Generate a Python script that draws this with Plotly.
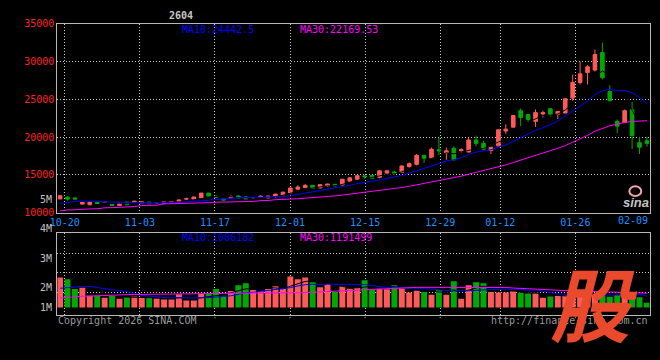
import plotly.graph_objects as go

W, H = 660, 360

# ---------------- data ----------------
dates = ["10-17", "10-20", "10-21", "10-22", "10-23", "10-24", "10-27", "10-28", "10-29", "10-30", "10-31",
         "11-03", "11-04", "11-05", "11-06", "11-07", "11-10", "11-11", "11-12", "11-13", "11-14",
         "11-17", "11-18", "11-19", "11-20", "11-21", "11-24", "11-25", "11-26", "11-27", "11-28",
         "12-01", "12-02", "12-03", "12-04", "12-05", "12-08", "12-09", "12-10", "12-11", "12-12",
         "12-15", "12-16", "12-17", "12-18", "12-19", "12-22", "12-23", "12-24", "12-25", "12-26",
         "12-29", "12-30", "12-31", "01-05", "01-06", "01-07", "01-08", "01-09",
         "01-12", "01-13", "01-14", "01-15", "01-16", "01-19", "01-20", "01-21", "01-22", "01-23",
         "01-26", "01-27", "01-28", "01-29", "01-30", "02-02", "02-03", "02-04", "02-05", "02-06",
         "02-09"]

opens = [11833, 12090, 11960, 11150, 11064, 11360, 11400, 11100, 10975, 11410,
         11360, 11230, 11410, 11300, 11230, 11320, 11320, 11820, 11795, 11960,
         12600, 12200, 11830, 12000, 12220, 12090, 11940, 12090, 11960, 12130,
         12350, 12600, 13115, 13330, 13630, 13280, 13540, 13760, 13670, 14180,
         14440, 14870, 14950, 14690, 15260, 15380, 15340, 16100, 16410, 17600,
         17260, 18330, 17900, 18540, 18200, 18030, 19620, 19180, 18240, 18850,
         20810, 21320, 23500, 22990, 22090, 23070, 23760, 23030, 23200, 25170,
         27220, 28540, 28880, 31190, 26030, 22090, 21920, 23630, 19270, 19530]
highs = [12300, 12130, 12000, 11410, 11450, 11400, 11480, 11150, 11320, 11450,
         11580, 11480, 11450, 11380, 11480, 11530, 11750, 12000, 12130, 12640,
         12640, 12250, 11870, 12310, 12300, 12120, 12000, 12310, 12260, 12510,
         12770, 13320, 13630, 13800, 13680, 13760, 13840, 13800, 14480, 14720,
         14950, 15000, 14990, 15600, 15680, 15550, 16300, 16660, 17770, 17640,
         18620, 19950, 18620, 18790, 18540, 19950, 20200, 19520, 18720, 21000,
         21700, 22950, 23800, 23030, 23670, 23500, 23800, 23450, 25120, 28270,
         29990, 29530, 31580, 32510, 26870, 22350, 23670, 24650, 20040, 20040]
lows = [11800, 11610, 11750, 11100, 11000, 11180, 11350, 10930, 10950, 11000,
        11320, 11200, 11150, 11260, 11200, 11300, 11300, 11700, 11750, 11940,
        12200, 11950, 11650, 11980, 11930, 11800, 11910, 12060, 11930, 11960,
        12330, 12440, 13080, 13300, 13200, 13250, 13500, 13500, 13640, 14150,
        14400, 14400, 14520, 14560, 15130, 15080, 15300, 15980, 16230, 16580,
        17230, 17480, 17000, 16950, 17900, 18000, 18800, 18380, 17770, 18800,
        20440, 21300, 21450, 21960, 21360, 22600, 22730, 22390, 23150, 24830,
        26960, 26960, 28670, 27640, 24800, 20550, 21900, 18410, 17770, 18760]
closes = [12256, 11795, 11830, 11360, 11410, 11230, 11430, 10975, 11280, 11064,
          11540, 11450, 11190, 11330, 11450, 11490, 11705, 11850, 12090, 12600,
          12220, 12050, 11700, 12130, 11960, 11830, 11970, 12180, 12220, 12475,
          12730, 13280, 13410, 13630, 13240, 13720, 13800, 13540, 14440, 14620,
          14910, 14780, 14560, 15550, 15550, 15210, 16190, 16490, 17600, 17220,
          18410, 18200, 18200, 17000, 18330, 19620, 19180, 18410, 18670, 20970,
          21060, 22860, 22600, 22350, 23240, 23240, 23030, 23410, 25080, 27220,
          28370, 29310, 30930, 27860, 24820, 21450, 23500, 20200, 18670, 19180]
# volume, millions of lots
volumes = [2.50, 2.34, 1.53, 1.64, 0.97, 0.97, 0.81, 0.97, 0.73, 0.86,
           0.91, 0.78, 0.83, 0.75, 0.67, 0.67, 1.10, 0.59, 0.59, 1.13,
           1.13, 1.53, 0.97, 1.37, 1.85, 2.02, 1.45, 1.37, 1.53, 1.77,
           1.61, 2.58, 2.34, 2.50, 2.10, 1.69, 1.94, 1.29, 1.75, 1.56,
           1.64, 2.26, 1.48, 1.56, 1.51, 1.85, 1.69, 1.24, 1.40, 1.29,
           1.05, 1.45, 1.05, 2.18, 0.73, 1.85, 2.10, 2.02, 1.29, 1.24,
           1.24, 1.32, 1.24, 1.16, 1.16, 0.81, 0.91, 0.95, 1.00, 0.93,
           1.10, 1.00, 1.05, 1.36, 0.90, 1.15, 1.00, 1.29, 0.85, 0.40]

# moving-average values before the window is filled
ma10_head = [11280, 11300, 11530, 11540, 11540, 11540, 11420, 11410, 11400]
ma30_head = [10250, 10380, 10400, 10500, 10510, 10530, 10660, 10680, 10700, 10800,
             10820, 10960, 10980, 11000, 11180, 11190, 11200, 11210, 11230, 11320,
             11330, 11400, 11410, 11420, 11480, 11490, 11500, 11610, 11620]
vol_ma10_head = [1.60, 1.67, 1.70, 1.75, 1.75, 1.68, 1.55, 1.48, 1.38]
vol_ma30_head = [0.78, 0.84, 0.88, 0.94, 0.95, 0.98, 1.03, 1.05, 1.06, 1.07,
                 1.08, 1.08, 1.12, 1.13, 1.13, 1.13, 1.14, 1.14, 1.14, 1.15,
                 1.15, 1.16, 1.17, 1.18, 1.18, 1.19, 1.20, 1.21, 1.22]

title_text = "2604"
price_ma10_text = "MA10:24442.5"
price_ma30_text = "MA30:22169.53"
vol_ma10_text = "MA10:1006182"
vol_ma30_text = "MA30:1191499"
price_ticks = [10000, 15000, 20000, 25000, 30000, 35000]
vol_labels = ["5M", "4M", "3M", "2M", "1M"]
label_dates = ["10-20", "11-03", "11-17", "12-01", "12-15", "12-29", "01-12", "01-26"]
last_label = "02-09"


def rolling(vals, n, head=None):
    out = []
    for i in range(len(vals)):
        if i < n - 1:
            out.append(head[i] if head is not None else None)
        else:
            out.append(sum(vals[i - n + 1:i + 1]) / n)
    return out


ma5 = rolling(closes, 5)
ma10 = rolling(closes, 10, ma10_head)
ma30 = rolling(closes, 30, ma30_head)
vma5 = rolling(volumes, 5)
vma10 = rolling(volumes, 10, vol_ma10_head)
vma30 = rolling(volumes, 30, vol_ma30_head)

idx = list(range(len(dates)))

RED = "#ff5a5a"
GREEN = "#00a800"
BLUE = "#0000ff"
MAG = "#ff00ff"
GRID = "#c8c8c8"
BORDER = "#b8b8b8"
MONO = "DejaVu Sans Mono"

# ---------------- geometry (pixels) ----------------
PL, PR = 50, 649.5
P_TOP, P_BOT = 18.3, 213.3
V_TOP, V_BOT = 234.3, 318.3
XR = [-0.36, 79.36]


def px(x):
    return x / W


def py(y):
    return 1 - y / H


vol_range = [-0.589, 6.185]

fig = go.Figure()

fig.add_trace(go.Candlestick(
    x=idx, open=opens, high=highs, low=lows, close=closes,
    increasing=dict(line=dict(color=RED, width=1), fillcolor=RED),
    decreasing=dict(line=dict(color=GREEN, width=1), fillcolor=GREEN),
    whiskerwidth=0, xaxis="x", yaxis="y", showlegend=False, hoverinfo="skip"))

for vals, col in [(ma5, "#000000"), (ma10, BLUE), (ma30, MAG)]:
    fig.add_trace(go.Scatter(x=idx, y=vals, mode="lines", line=dict(color=col, width=1),
                             xaxis="x", yaxis="y", showlegend=False, hoverinfo="skip"))

bar_colors = [RED if c >= o else GREEN for o, c in zip(opens, closes)]
fig.add_trace(go.Bar(x=idx, y=volumes, width=0.8, marker=dict(color=bar_colors, line=dict(width=0)),
                     xaxis="x2", yaxis="y2", showlegend=False, hoverinfo="skip"))
for vals, col in [(vma5, "#000000"), (vma10, BLUE), (vma30, MAG)]:
    fig.add_trace(go.Scatter(x=idx, y=vals, mode="lines", line=dict(color=col, width=1),
                             xaxis="x2", yaxis="y2", showlegend=False, hoverinfo="skip"))

# grid x positions (Sina places date grid slightly off the candle centres)
grid_x = [dates.index(d) * 1.0106 - 0.37 for d in label_dates]

xdom = [px(PL), px(PR)]
common_x = dict(domain=xdom, range=XR, showgrid=True, gridcolor=GRID, griddash="1px,2px", gridwidth=1,
                tickmode="array", tickvals=grid_x, showline=True, mirror=True, linecolor=BORDER,
                linewidth=1, ticks="", zeroline=False, fixedrange=True)

vgrid_vals = [(311 - 295.7) / 12.4, (311 - 275.3) / 12.4, (311 - 255.3) / 12.4]

fig.update_layout(
    width=W, height=H, margin=dict(l=0, r=0, t=0, b=0),
    paper_bgcolor="#000000", plot_bgcolor="#000000",
    boxgap=0.3, bargap=0.2, showlegend=False,
    xaxis=dict(**common_x, anchor="y", ticktext=label_dates,
               tickfont=dict(family=MONO, size=10, color="#1e90ff"),
               rangeslider=dict(visible=False)),
    yaxis=dict(domain=[py(P_BOT), py(P_TOP)], range=[10000, 35000], tickmode="array",
               tickvals=price_ticks, ticktext=[str(t) for t in price_ticks],
               tickfont=dict(family=MONO, size=10, color="#ff2020"),
               showgrid=True, gridcolor=GRID, griddash="1px,2px", gridwidth=1,
               showline=True, mirror=True, linecolor=BORDER, ticks="", zeroline=False,
               fixedrange=True),
    xaxis2=dict(**common_x, anchor="y2", showticklabels=False),
    yaxis2=dict(domain=[py(V_BOT), py(V_TOP)], range=vol_range, tickmode="array",
                tickvals=vgrid_vals, showticklabels=False,
                showgrid=True, gridcolor=GRID, griddash="1px,2px", gridwidth=1,
                showline=True, mirror=True, linecolor=BORDER, ticks="", zeroline=False,
                fixedrange=True),
)

# short grid stubs below the volume panel
for gx in grid_x:
    fig.add_shape(type="line", xref="x2", yref="paper", x0=gx, x1=gx, y0=py(322), y1=py(V_BOT),
                  line=dict(color=GRID, width=1, dash="1px,2px"))

ann = []


def text(x, y, s, color, size=10, xanchor="left", family=MONO, **kw):
    ann.append(dict(x=px(x), y=py(y), xref="paper", yref="paper", text=s, showarrow=False,
                    xanchor=xanchor, yanchor="middle",
                    font=dict(family=family, size=size, color=color, **kw)))


text(175.5, 9.5, "<b>" + title_text + "</b>", "#c8c8c8", size=10, xanchor="center")
text(174, 23.8, price_ma10_text, BLUE)
text(294, 23.8, price_ma30_text, MAG)
text(174, 238.6, vol_ma10_text, BLUE)
text(294, 238.6, vol_ma30_text, MAG)
for lab, yy in zip(vol_labels, [200, 230, 260.5, 290.5, 310.5]):
    text(47, yy, lab, "#c0c0c0", xanchor="right")
text(PR, 221, last_label, "#1e90ff", xanchor="right")
text(49, 324, "Copyright 2026 SINA.COM", "#9a9a9a")
text(PR, 324, "http://finance.sina.com.cn", "#9a9a9a", xanchor="right")
# sina mark
text(636, 203, "<b><i>sina</i></b>", "#c4c4c4", size=13, xanchor="center", family="Liberation Sans")
# big 股 mark
ann.append(dict(x=px(593), y=py(304), xref="paper", yref="paper", text="<b>股</b>", showarrow=False,
                xanchor="center", yanchor="middle",
                font=dict(family="Noto Sans CJK SC", size=80, color="#ea4a2c", style="italic")))
fig.update_layout(annotations=ann)

fig.add_shape(type="circle", xref="paper", yref="paper",
              x0=px(629), x1=px(641), y0=py(196), y1=py(186),
              line=dict(color="#f0a8a8", width=2))

fig.write_html("out.html", config={"displayModeBar": False},
               post_script="document.body.style.margin='0';document.body.style.background='#000';")
